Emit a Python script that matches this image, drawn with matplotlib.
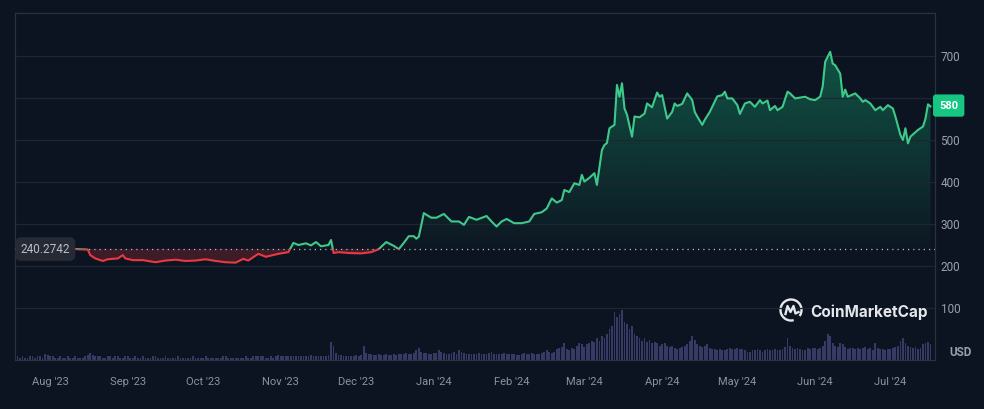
import matplotlib
matplotlib.use('Agg')
import matplotlib.pyplot as plt
import matplotlib.dates as mdates
import matplotlib.transforms as mtrans
from matplotlib.patches import Rectangle, PathPatch, Arc
from matplotlib.lines import Line2D
from matplotlib.colors import to_rgb
import numpy as np
import pandas as pd

# --- data ---
baseline = 240.2742
last_price = 580

dates = [
    '2023-07-18', '2023-07-28', '2023-08-05', '2023-08-12', '2023-08-16', '2023-08-17', '2023-08-19',
    '2023-08-22', '2023-08-24', '2023-08-28', '2023-08-30', '2023-08-31',
    '2023-09-03', '2023-09-07', '2023-09-12', '2023-09-16', '2023-09-20', '2023-09-24', '2023-09-28',
    '2023-10-02', '2023-10-06', '2023-10-10', '2023-10-14', '2023-10-17', '2023-10-19', '2023-10-23',
    '2023-10-26', '2023-10-31',
    '2023-11-04', '2023-11-06', '2023-11-08', '2023-11-11', '2023-11-13', '2023-11-15', '2023-11-17',
    '2023-11-20', '2023-11-21', '2023-11-22', '2023-11-24', '2023-11-28',
    '2023-12-03', '2023-12-07', '2023-12-10', '2023-12-13', '2023-12-16', '2023-12-18', '2023-12-20',
    '2023-12-22', '2023-12-24', '2023-12-25', '2023-12-26', '2023-12-28', '2023-12-29', '2023-12-31',
    '2024-01-02', '2024-01-05', '2024-01-08', '2024-01-11', '2024-01-13', '2024-01-15', '2024-01-18',
    '2024-01-22', '2024-01-24', '2024-01-26', '2024-01-28', '2024-01-30',
    '2024-02-02', '2024-02-05', '2024-02-08', '2024-02-10', '2024-02-13', '2024-02-15', '2024-02-17',
    '2024-02-19', '2024-02-21', '2024-02-22', '2024-02-24', '2024-02-26', '2024-02-28', '2024-02-29',
    '2024-03-01', '2024-03-03', '2024-03-05', '2024-03-06', '2024-03-08', '2024-03-09', '2024-03-10',
    '2024-03-11', '2024-03-13', '2024-03-14', '2024-03-15', '2024-03-16', '2024-03-17', '2024-03-18',
    '2024-03-20', '2024-03-21', '2024-03-23', '2024-03-25', '2024-03-26', '2024-03-28', '2024-03-30',
    '2024-03-31',
    '2024-04-01', '2024-04-03', '2024-04-05', '2024-04-06', '2024-04-07', '2024-04-09', '2024-04-11',
    '2024-04-13', '2024-04-14', '2024-04-15', '2024-04-17', '2024-04-18', '2024-04-20', '2024-04-23',
    '2024-04-25', '2024-04-26', '2024-04-27', '2024-04-29',
    '2024-05-01', '2024-05-02', '2024-05-04', '2024-05-06', '2024-05-08', '2024-05-10', '2024-05-11',
    '2024-05-13', '2024-05-14', '2024-05-16', '2024-05-17', '2024-05-19', '2024-05-21', '2024-05-22',
    '2024-05-24', '2024-05-26', '2024-05-28', '2024-05-30',
    '2024-06-01', '2024-06-03', '2024-06-04', '2024-06-05', '2024-06-07', '2024-06-08', '2024-06-09',
    '2024-06-11', '2024-06-12', '2024-06-13', '2024-06-14', '2024-06-17', '2024-06-19', '2024-06-20',
    '2024-06-21', '2024-06-23', '2024-06-25', '2024-06-27', '2024-06-28', '2024-06-30',
    '2024-07-02', '2024-07-03', '2024-07-05', '2024-07-06', '2024-07-07', '2024-07-08', '2024-07-09',
    '2024-07-12', '2024-07-14', '2024-07-15', '2024-07-16', '2024-07-17',
]
price = [
    240.3, 243, 241, 240, 239, 226, 218,
    212, 216, 218, 226, 218,
    214, 214, 209, 213, 215, 212, 213,
    216, 212, 209, 208, 217, 213, 229,
    222, 229,
    233, 255, 250, 254, 249, 257, 247,
    250, 262, 231, 233, 231,
    230, 233, 240, 257, 248, 240, 255,
    271, 271, 265, 270, 326, 322, 315,
    315, 324, 306, 306, 298, 317, 310,
    319, 306, 294, 306, 312,
    302, 302, 306, 324, 328, 337, 361,
    351, 357, 381, 376, 397, 393, 417,
    401, 410, 421, 393, 476, 488, 493,
    528, 536, 631, 603, 635, 575, 560,
    508, 556, 554, 563, 587, 578, 613,
    603,
    607, 551, 567, 587, 581, 586, 611,
    595, 567, 556, 536, 548, 567, 604,
    607, 615, 599, 599,
    583, 562, 587, 591, 579, 595, 587,
    594, 571, 581, 571, 579, 615, 611,
    599, 601, 603, 597,
    595, 603, 627, 686, 710, 682, 678,
    658, 603, 620, 603, 611, 599, 591,
    595, 587, 571, 579, 571, 583,
    575, 556, 512, 500, 528, 492, 508,
    524, 532, 551, 585, 580,
]

# daily volume from 2023-07-18, hundreds of millions USD
volume = [
    3, 3, 2, 3, 2, 2, 3, 3, 2, 3, 3, 2, 5, 4,                                              # Jul
    3, 3, 2, 2, 3, 2, 2, 3, 2, 2, 3, 2, 2, 2, 3, 4, 6, 4, 3, 3, 3, 2, 2, 3, 3, 2, 3, 3, 2, 2, 3,  # Aug
    3, 2, 2, 3, 2, 2, 3, 2, 2, 2, 3, 3, 2, 2, 2, 3, 2, 2, 2, 2, 3, 2, 2, 2, 2, 2, 3, 2, 2, 2,     # Sep
    2, 3, 2, 2, 2, 2, 2, 2, 3, 3, 2, 2, 2, 2, 2, 2, 2, 3, 2, 2, 3, 3, 3, 3, 3, 2, 2, 3, 2, 3, 4,  # Oct
    3, 3, 3, 3, 3, 3, 3, 3, 3, 3, 3, 3, 4, 3, 3, 3, 3, 3, 3, 4, 15, 12, 6, 4, 4, 3, 3, 3, 3, 3,  # Nov
    4, 3, 4, 12, 6, 5, 5, 4, 4, 5, 4, 4, 5, 4, 4, 5, 4, 5, 5, 5, 6, 5, 5, 6, 8, 10, 7, 6, 6, 5, 5,  # Dec
    6, 6, 8, 7, 6, 5, 5, 6, 7, 5, 8, 7, 6, 5, 5, 5, 5, 5, 6, 5, 5, 5, 6, 7, 5, 5, 5, 5, 6, 5, 5,  # Jan
    5, 5, 4, 4, 5, 6, 5, 5, 6, 5, 5, 5, 6, 7, 8, 7, 6, 7, 9, 10, 11, 14, 9, 8, 10, 9, 12, 14, 13,  # Feb
    11, 13, 14, 16, 15, 18, 16, 20, 18, 22, 26, 28, 40, 36, 38, 42, 32, 30, 26, 28, 22, 20, 18,
    16, 18, 15, 17, 14, 15, 14, 12,                                                         # Mar
    13, 14, 12, 11, 12, 10, 9, 10, 11, 12, 13, 16, 20, 17, 13, 12, 11, 12, 13, 10, 9, 9, 8, 9,
    8, 8, 9, 10, 9, 9,                                                                      # Apr
    10, 9, 9, 8, 7, 7, 8, 8, 9, 8, 7, 8, 9, 8, 8, 9, 8, 8, 9, 11, 18, 12, 10, 9, 10, 9, 8, 8,
    10, 9, 10,                                                                              # May
    10, 9, 10, 12, 16, 22, 20, 14, 12, 11, 14, 13, 11, 9, 10, 10, 9, 10, 9, 10, 11, 9, 10, 8,
    14, 10, 9, 9, 8, 9,                                                                     # Jun
    9, 10, 11, 12, 16, 18, 14, 12, 11, 10, 11, 9, 10, 13, 14, 15, 13,                       # Jul
]

y_ticks = [100, 200, 300, 400, 500, 600, 700]
y_labels = ['100', '200', '300', '400', '500', '', '700']  # 600 sits under the price tag

# --- style ---
bg = '#0d1421'
green = '#3ec98b'
red = '#ea3943'
frame = '#2a3140'
grid_c = '#1f2633'

plt.rcParams['font.family'] = ['Roboto', 'DejaVu Sans']

fig = plt.figure(figsize=(9.84, 4.09), dpi=100, facecolor=bg)
ax = fig.add_axes([15 / 984, 49 / 409, 920 / 984, 347 / 409])
vax = ax.twinx()
ax.set_zorder(vax.get_zorder() + 1)
ax.patch.set_visible(False)

px = pd.to_datetime(dates)
p = np.array(price, dtype=float)
xmin = pd.Timestamp('2023-07-18')
xmax = pd.Timestamp('2024-07-18 19:00')
x0, x1 = mdates.date2num(xmin), mdates.date2num(xmax)

# volume bars
vdates = pd.date_range('2023-07-18', periods=len(volume), freq='D')
vax.bar(vdates, volume, width=0.72, color='#363a64', linewidth=0)
vax.set_ylim(0, 289)
vax.axis('off')

# fills
poly = ax.fill_between(px, p, baseline, facecolor='none', linewidth=0)
clip = PathPatch(poly.get_paths()[0], transform=ax.transData, facecolor='none', edgecolor='none')
grad = np.zeros((256, 1, 4))
grad[..., :3] = to_rgb('#16c784')
grad[:, 0, 3] = np.linspace(0.02, 0.36, 256)
im = ax.imshow(grad, extent=[x0, x1, baseline, p.max()], origin='lower', aspect='auto', zorder=1)
im.set_clip_path(clip)

ax.fill_between(px, p, baseline, where=p < baseline, interpolate=True,
                color=red, alpha=0.22, linewidth=0, zorder=1)

# price line, green above the baseline and red below
up = Rectangle((x0, baseline), x1 - x0, 2000, transform=ax.transData)
down = Rectangle((x0, baseline - 2000), x1 - x0, 2000, transform=ax.transData)
lg, = ax.plot(px, p, color=green, lw=1.5, zorder=4, solid_joinstyle='round')
lr, = ax.plot(px, p, color=red, lw=1.5, zorder=4, solid_joinstyle='round')
lg.set_clip_path(up)
lr.set_clip_path(down)

ax.axhline(baseline, color='#b5bac3', lw=0.9, ls=(0, (1, 3.2)), zorder=3)

# axes
ax.set_xlim(xmin, xmax)
ax.set_ylim(-23.8, 802.4)
ax.set_aspect('auto')
ax.set_yticks(y_ticks)
ax.set_yticklabels(y_labels)
ax.yaxis.tick_right()
ax.tick_params(axis='y', length=0, pad=4, labelsize=8.5, labelcolor='#9aa0aa')
ax.xaxis.set_major_locator(mdates.MonthLocator())
ax.xaxis.set_major_formatter(mdates.DateFormatter("%b '%y"))
ax.tick_params(axis='x', length=0, pad=12, labelsize=8, labelcolor='#8c929c')
ax.grid(axis='y', color=grid_c, lw=0.9)
for s in ax.spines.values():
    s.set_color(frame)
    s.set_linewidth(0.9)

# labels
blend = mtrans.blended_transform_factory(ax.transAxes, ax.transData)
ax.text(0.006, baseline, f'{baseline:.4f}', transform=blend, ha='left', va='center',
        fontsize=8.5, color='#b8bdc6', zorder=6,
        bbox=dict(boxstyle='round,pad=0.45,rounding_size=0.5', fc='#252a35', ec='none'))
ax.text(1.0045, 582, f'{last_price}', transform=blend, ha='left', va='center',
        fontsize=8, fontweight='bold', color='white', zorder=10, clip_on=False,
        bbox=dict(boxstyle='round,pad=0.55,rounding_size=0.25', fc='#16c784', ec='none'))
fig.text(961 / 984, 1 - 352 / 409, 'USD', ha='center', va='center', fontsize=8.5,
         fontweight='bold', color='#9aa0aa')

# watermark
fig.text(810 / 984, 1 - 312 / 409, 'CoinMarketCap', ha='left', va='center', fontsize=11,
         fontweight='bold', family=['Inter', 'DejaVu Sans'], color='#e4e7ec')
cx, cy = 791, 409 - 310
idt = mtrans.IdentityTransform()
fig.add_artist(Arc((cx, cy), 21, 21, theta1=-35, theta2=285, transform=idt, color='#e4e7ec', lw=1.7))
fig.add_artist(Line2D([cx - 5.5, cx - 3.5, cx - 0.5, cx + 2.5, cx + 4.5, cx + 7.5],
                      [cy - 4, cy + 4, cy - 2, cy + 4, cy - 3.5, cy - 2],
                      transform=idt, color='#e4e7ec', lw=1.7, solid_joinstyle='round'))

fig.savefig('out.png', dpi=100, facecolor=bg)
